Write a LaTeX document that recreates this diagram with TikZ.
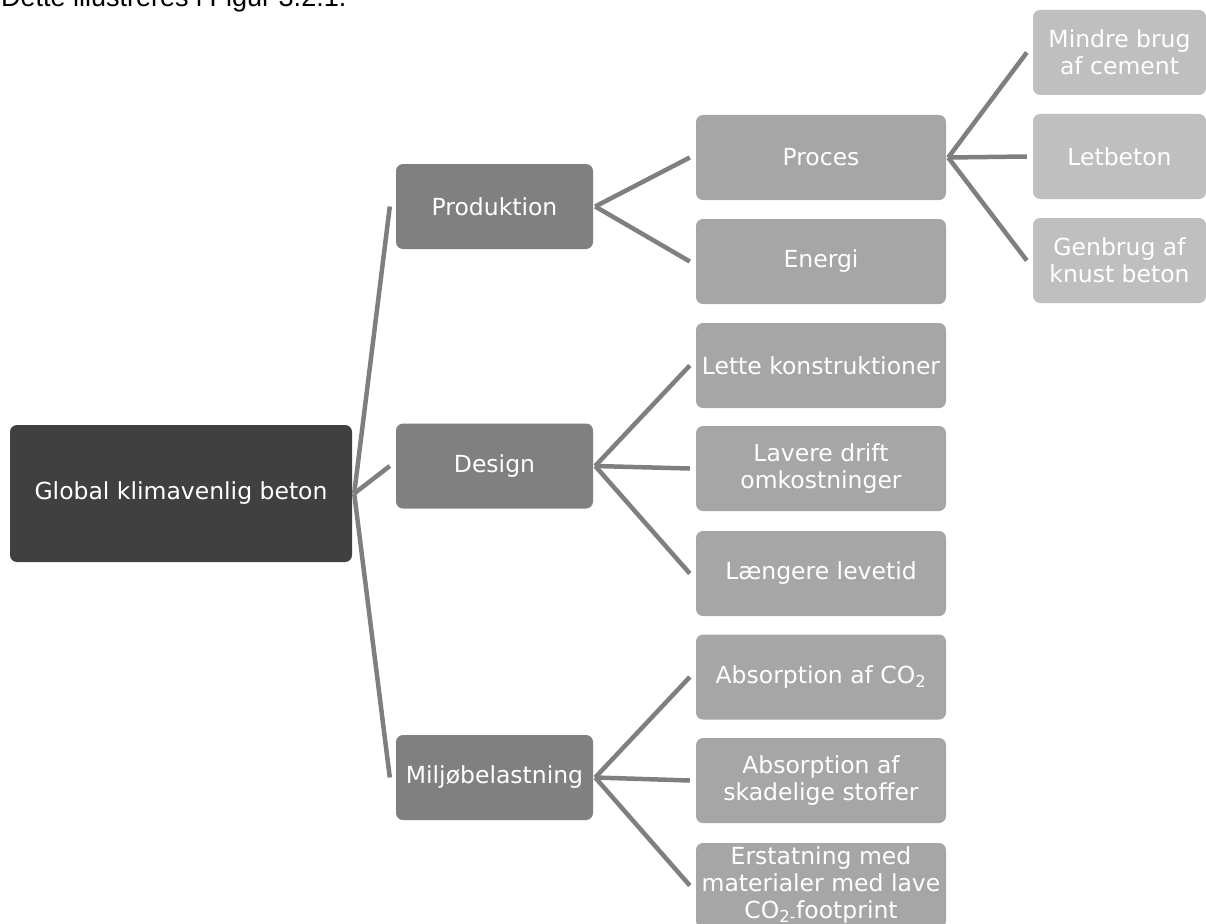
\documentclass[tikz,border=0pt]{standalone}
\usepackage{fontspec}
\setmainfont{DejaVu Sans}
\newfontfamily\capfont{Liberation Sans}
\definecolor{rootgray}{HTML}{404040}
\definecolor{midgray}{HTML}{808080}
\definecolor{leafgray}{HTML}{A6A6A6}
\definecolor{tipgray}{HTML}{BFBFBF}
\definecolor{linegray}{HTML}{7F7F7F}
\begin{document}
\begin{tikzpicture}[x=1pt, y=-1pt,
    box/.style={rounded corners=7pt, text=white, align=center, inner sep=0pt,
      font=\fontsize{23.5}{27}\selectfont},
    rootbox/.style={box, fill=rootgray, minimum width=342pt, minimum height=137pt},
    lvlone/.style={box, fill=midgray, minimum width=197pt, minimum height=85pt},
    lvltwo/.style={box, fill=leafgray, minimum width=250pt, minimum height=85pt},
    lvlthree/.style={box, fill=tipgray, minimum width=173pt, minimum height=85pt},
    conn/.style={draw=linegray, line width=4.5pt}]
    \useasboundingbox (0,0) rectangle (1206,923);
    \clip (0,0) rectangle (1206,923);
    % Caption line, cut at the top
    \node[anchor=base west, inner sep=0pt, font=\capfont\fontsize{27}{30}\selectfont] (cap) at (1,7) {Dette illustreres i Figur 3.2.1.};
    % Root
    \node[rootbox] (root) at (181,493.5) {Global klimavenlig beton};
    % First level
    \node[lvlone] (prod) at (494.5,206.5) {Produktion};
    \node[lvlone] (design) at (494.5,466) {Design};
    \node[lvlone] (miljo) at (494.5,777.5) {Miljøbelastning};
    % Second level
    \node[lvltwo] (proces) at (821,157.5) {Proces};
    \node[lvltwo] (energi) at (821,261.5) {Energi};
    \node[lvltwo] (lette) at (821,365.5) {Lette konstruktioner};
    \node[lvltwo] (lavere) at (821,468.5) {Lavere drift\\omkostninger};
    \node[lvltwo] (laengere) at (821,573.5) {Længere levetid};
    \node[lvltwo] (absco) at (821,677) {Absorption af CO\textsubscript{2}};
    \node[lvltwo] (absskad) at (821,780.5) {Absorption af\\skadelige stoffer};
    \node[lvltwo] (erstat) at (821,885.5) {Erstatning med\\materialer med lave\\CO\textsubscript{2-}footprint};
    % Third level
    \node[lvlthree] (mindre) at (1119.5,52.5) {Mindre brug\\af cement};
    \node[lvlthree] (letbeton) at (1119.5,156.5) {Letbeton};
    \node[lvlthree] (genbrug) at (1119.5,260.5) {Genbrug af\\knust beton};
    % Connectors
    \foreach \child in {prod, design, miljo}
        \draw[conn] ([xshift=2pt]root.east) -- ([xshift=-6pt]\child.west);
    \foreach \child in {proces, energi}
        \draw[conn] ([xshift=2pt]prod.east) -- ([xshift=-6pt]\child.west);
    \foreach \child in {lette, lavere, laengere}
        \draw[conn] ([xshift=2pt]design.east) -- ([xshift=-6pt]\child.west);
    \foreach \child in {absco, absskad, erstat}
        \draw[conn] ([xshift=2pt]miljo.east) -- ([xshift=-6pt]\child.west);
    \foreach \child in {mindre, letbeton, genbrug}
        \draw[conn] ([xshift=2pt]proces.east) -- ([xshift=-6pt]\child.west);
\end{tikzpicture}
\end{document}
